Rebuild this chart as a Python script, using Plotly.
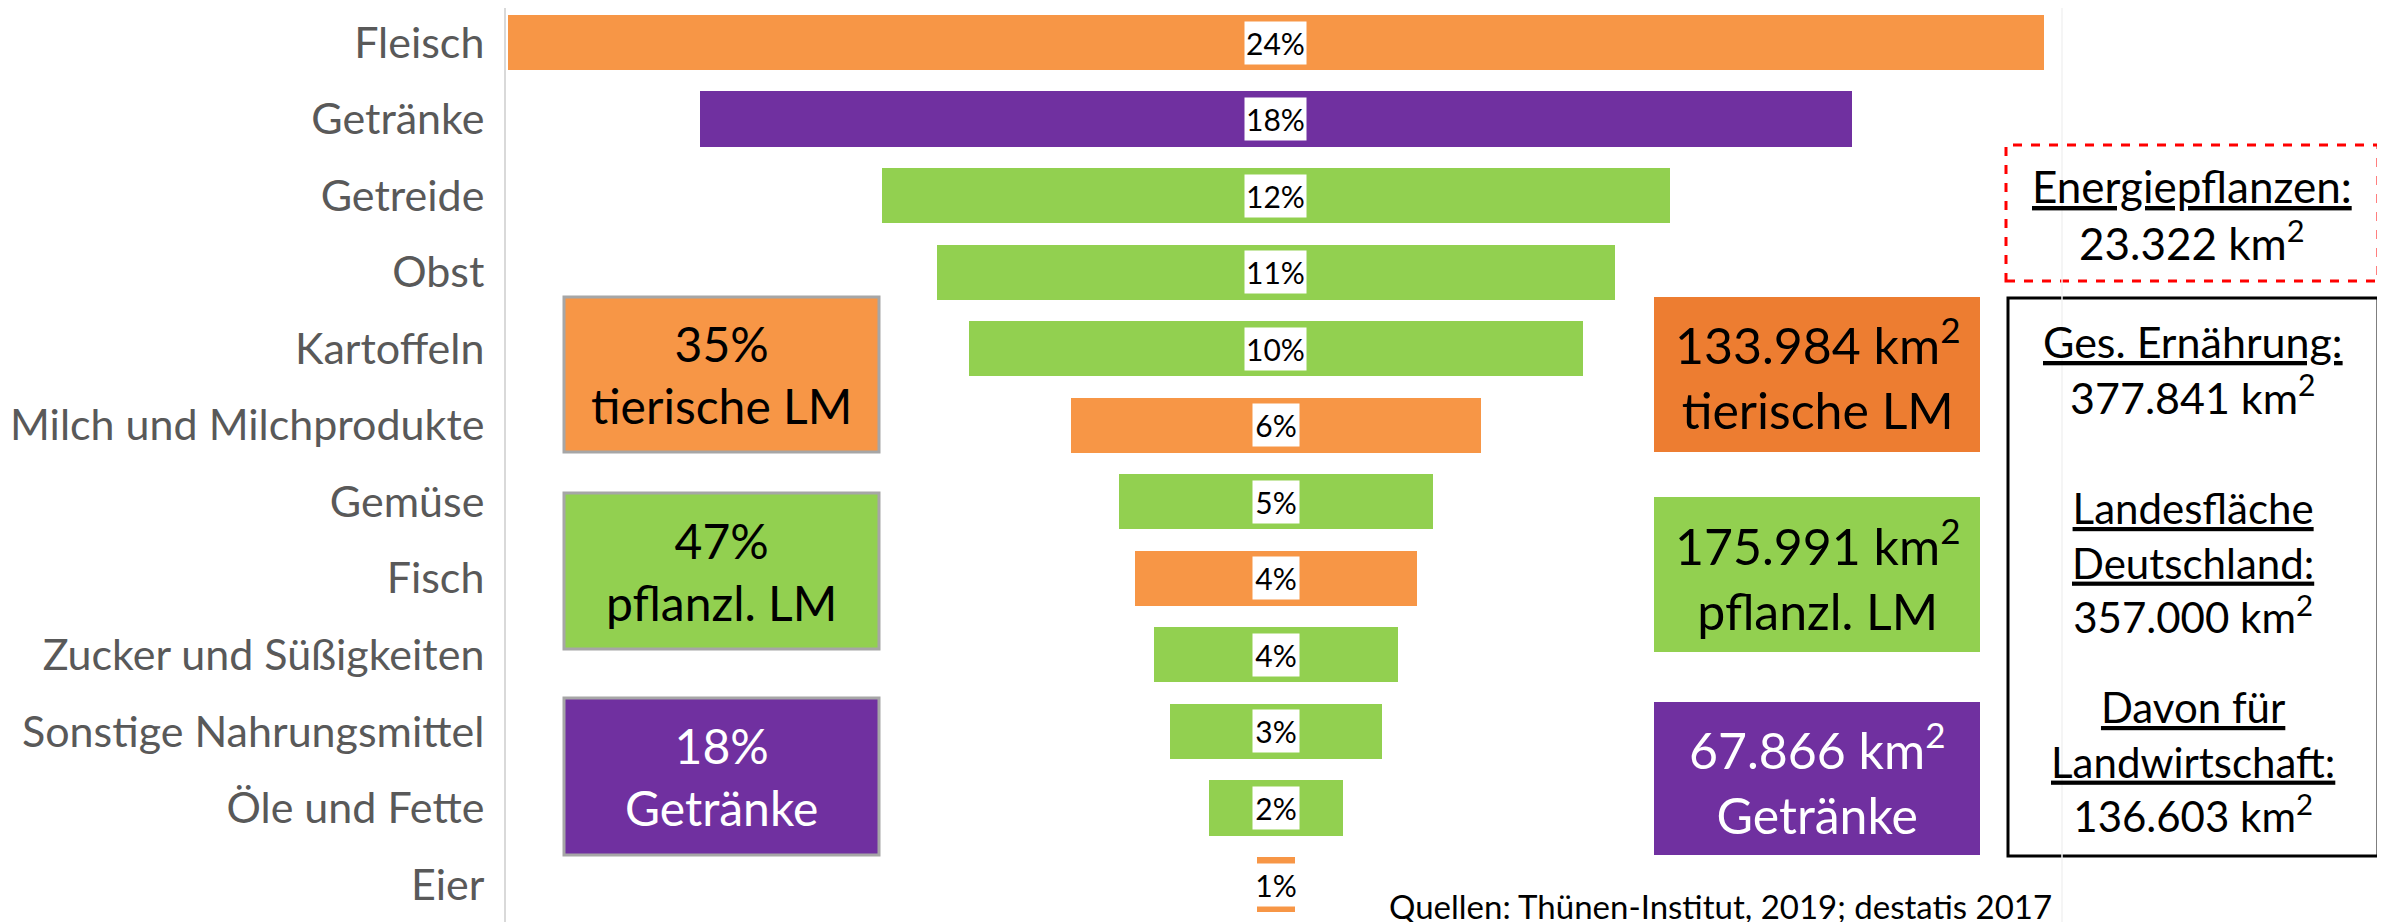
import plotly.graph_objects as go

# ---- Daten: Flächenbedarf der Ernährung je Lebensmittelgruppe (Anteile in %) ----
kategorien = ["Fleisch", "Getränke", "Getreide", "Obst", "Kartoffeln",
              "Milch und Milchprodukte", "Gemüse", "Fisch", "Zucker und Süßigkeiten",
              "Sonstige Nahrungsmittel", "Öle und Fette", "Eier"]
anteile = [24.0, 18.0, 12.3, 10.6, 9.6, 6.4, 4.9, 4.4, 3.8, 3.3, 2.1, 0.6]
gruppe = ["tier", "getr", "pfl", "pfl", "pfl", "tier", "pfl", "tier", "pfl", "pfl", "pfl", "tier"]

# ---- Zusammenfassung je Gruppe ----
gruppen = ["tier", "pfl", "getr"]
gruppen_anteil = ["35%", "47%", "18%"]
gruppen_name = ["tierische LM", "pflanzl. LM", "Getränke"]
gruppen_flaeche = ["133.984", "175.991", "67.866"]

energie_flaeche = "23.322"
ernaehrung_flaeche = "377.841"
landesflaeche = "357.000"
landwirtschaft_flaeche = "136.603"
quelle = "Quellen: Thünen-Institut, 2019; destatis 2017"

farbe = {"tier": "#F79646", "pfl": "#92D050", "getr": "#7030A0"}
farbe_rechts = {"tier": "#ED7D31", "pfl": "#92D050", "getr": "#7030A0"}
textfarbe = {"tier": "black", "pfl": "black", "getr": "white"}

FONT = "Lato"
OFF = 8                 # page body margin of the browser
W, H = 2385 - OFF, 922 - OFF
L = 506 - OFF           # y axis line position


# screen pixel -> paper helpers for the boxes
def px(p):
    return (p - OFF - L) / (W - L)


def py(p):
    return 1 - (p - OFF) / H


def note(x, y, text, size, color="black", **kw):
    d = dict(x=px(x), y=py(y), xref="paper", yref="paper", text=text, showarrow=False,
             xanchor="center", yanchor="middle",
             font=dict(family=FONT, size=size, color=color))
    d.update(kw)
    return d


fig = go.Figure()

# ---- centred bars (funnel look) ----
fig.add_trace(go.Bar(
    y=kategorien,
    x=anteile,
    base=[-a / 2 for a in anteile],
    orientation="h",
    width=0.72,
    marker=dict(color=[farbe[g] for g in gruppe], line=dict(width=0)),
    hoverinfo="skip",
))

annotations = []
for k, a in zip(kategorien, anteile):
    txt = f"{a:.0f}%"
    annotations.append(dict(
        x=0, y=k, xref="x", yref="y", text=txt, showarrow=False,
        xanchor="center", yanchor="middle",
        bgcolor="white", borderpad=0, width=16 + 15 * len(txt), height=42,
        font=dict(family=FONT, size=30, color="black"),
    ))

shapes = []

# ---- left boxes (shares) and right boxes (km²) ----
box_y = {"tier": [(297, 452), (297, 452)], "pfl": [(493, 649), (497, 652)],
         "getr": [(698, 855), (702, 855)]}
for g, ant, name, fl in zip(gruppen, gruppen_anteil, gruppen_name, gruppen_flaeche):
    (ly0, ly1), (ry0, ry1) = box_y[g]
    shapes.append(dict(type="rect", xref="paper", yref="paper",
                       x0=px(564), x1=px(879), y0=py(ly1), y1=py(ly0),
                       fillcolor=farbe[g], line=dict(color="#A6A6A6", width=3)))
    annotations.append(note((564 + 879) / 2, (ly0 + ly1) / 2,
                            f"{ant}<br>{name}", 48, textfarbe[g]))
    shapes.append(dict(type="rect", xref="paper", yref="paper",
                       x0=px(1654), x1=px(1980), y0=py(ry1), y1=py(ry0),
                       fillcolor=farbe_rechts[g], line=dict(width=0)))
    annotations.append(note((1654 + 1980) / 2, (ry0 + ry1) / 2,
                            f"{fl} km<sup>2</sup><br>{name}", 50, textfarbe[g]))

# ---- Energiepflanzen box (red dashed) ----
shapes.append(dict(type="rect", xref="paper", yref="paper",
                   x0=px(2006), x1=px(2378), y0=py(281), y1=py(145),
                   line=dict(color="#FF0000", width=3, dash="dash")))
annotations.append(note(2192, 214, f"<u>Energiepflanzen:</u><br>{energie_flaeche} km<sup>2</sup>", 44))

# ---- overview box (black) ----
shapes.append(dict(type="rect", xref="paper", yref="paper",
                   x0=px(2008), x1=px(2378), y0=py(856), y1=py(298),
                   line=dict(color="black", width=3)))
annotations.append(note(2193, 369, f"<u>Ges. Ernährung:</u><br>{ernaehrung_flaeche} km<sup>2</sup>", 43))
annotations.append(note(2193, 562, f"<u>Landesfläche</u><br><u>Deutschland:</u><br>{landesflaeche} km<sup>2</sup>", 42))
annotations.append(note(2193, 761, f"<u>Davon für</u><br><u>Landwirtschaft:</u><br>{landwirtschaft_flaeche} km<sup>2</sup>", 42))

# faint right border of the original plot area
shapes.append(dict(type="line", xref="paper", yref="paper",
                   x0=px(2062), x1=px(2062), y0=0, y1=1,
                   line=dict(color="#F2F2F2", width=1.5)))

# ---- source ----
annotations.append(note(1387, 906, quelle, 33, xanchor="left"))

# row 0 centred at screen y 42.5, 76.55 px per row
y_top = -(42.5 - OFF) / 76.55
y_bot = y_top + H / 76.55

fig.update_layout(
    width=W, height=H,
    margin=dict(l=L, r=0, t=0, b=0, autoexpand=False),
    paper_bgcolor="white", plot_bgcolor="white",
    showlegend=False,
    bargap=0,
    shapes=shapes,
    annotations=annotations,
    font=dict(family=FONT),
)
fig.update_xaxes(range=[-12.03, 17.33], visible=False, automargin=False)
fig.update_yaxes(
    categoryorder="array", categoryarray=kategorien,
    range=[y_bot, y_top],
    automargin=False,
    showline=True, linecolor="#D9D9D9", linewidth=2,
    showgrid=False, zeroline=False, ticks="",
    ticklabelstandoff=11,
    tickfont=dict(family=FONT, size=43, color="#595959"),
)

fig.write_html("out.html")
